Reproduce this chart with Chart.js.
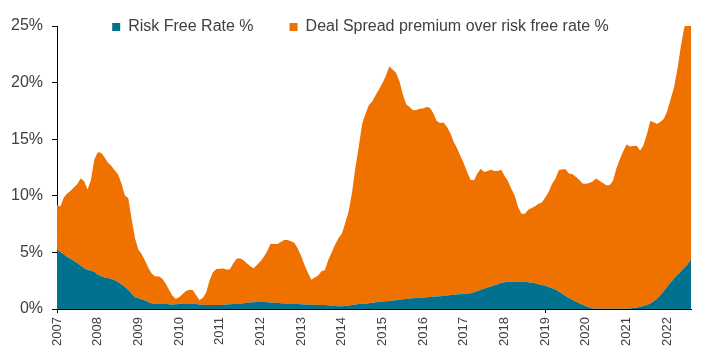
<!DOCTYPE html>
<html>
<head>
<meta charset="utf-8">
<script src="https://cdn.jsdelivr.net/npm/chart.js@4"></script>
<style>
  html, body { margin: 0; padding: 0; background: #fff; }
</style>
</head>
<body>
<canvas id="myChart" width="722" height="363"></canvas>
<script>
'use strict';

// data (monthly, Jan 2007 - Aug 2022)
const years = ['2007', '2008', '2009', '2010', '2011', '2012', '2013', '2014',
  '2015', '2016', '2017', '2018', '2019', '2020', '2021', '2022'];
const monthsInLastYear = 8;

const riskFree = [
  5.2, 5.05, 4.85, 4.6, 4.45, 4.25, 4.05, 3.85, 3.6, 3.45, 3.4, 3.3,
  3.05, 2.9, 2.8, 2.75, 2.65, 2.55, 2.4, 2.2, 1.95, 1.7, 1.35, 1.05,
  0.95, 0.85, 0.75, 0.6, 0.5, 0.48, 0.5, 0.5, 0.48, 0.42, 0.4, 0.42,
  0.45, 0.5, 0.5, 0.5, 0.48, 0.45, 0.4, 0.38, 0.36, 0.35, 0.35, 0.35,
  0.36, 0.38, 0.4, 0.42, 0.45, 0.45, 0.48, 0.52, 0.55, 0.58, 0.6, 0.62,
  0.62, 0.62, 0.6, 0.58, 0.55, 0.55, 0.52, 0.5, 0.5, 0.48, 0.45, 0.44,
  0.42, 0.4, 0.4, 0.38, 0.38, 0.36, 0.35, 0.35, 0.34, 0.3, 0.28, 0.26,
  0.26, 0.28, 0.32, 0.35, 0.4, 0.44, 0.46, 0.48, 0.52, 0.56, 0.6, 0.62,
  0.66, 0.7, 0.72, 0.75, 0.78, 0.82, 0.86, 0.9, 0.94, 0.96, 0.98, 1.0,
  1.02, 1.05, 1.07, 1.1, 1.12, 1.14, 1.17, 1.2, 1.24, 1.27, 1.3, 1.32,
  1.35, 1.38, 1.4, 1.48, 1.6, 1.7, 1.8, 1.9, 2.0, 2.1, 2.2, 2.3,
  2.38, 2.42, 2.42, 2.42, 2.42, 2.42, 2.41, 2.38, 2.33, 2.28, 2.2, 2.12,
  2.05, 1.95, 1.85, 1.72, 1.55, 1.35, 1.15, 0.98, 0.82, 0.68, 0.52, 0.38,
  0.26, 0.14, 0.06, 0.04, 0.03, 0.03, 0.03, 0.03, 0.03, 0.03, 0.03, 0.03,
  0.04, 0.06, 0.1, 0.13, 0.2, 0.28, 0.36, 0.5, 0.7, 0.94, 1.25, 1.6,
  2.0, 2.35, 2.7, 3.0, 3.3, 3.65, 3.95, 4.4
];

const dealSpread = [
  4.0, 4.0, 5.0, 5.6, 6.0, 6.5, 7.0, 7.7, 7.7, 7.1, 8.0, 9.9,
  10.8, 10.9, 10.6, 10.2, 10.0, 9.7, 9.5, 8.9, 8.1, 8.1, 6.6, 5.2,
  4.3, 4.0, 3.5, 3.0, 2.6, 2.4, 2.4, 2.2, 1.8, 1.3, 0.8, 0.5,
  0.6, 0.8, 1.1, 1.2, 1.2, 0.8, 0.4, 0.6, 1.1, 2.2, 2.9, 3.2,
  3.2, 3.2, 3.1, 3.1, 3.6, 4.0, 4.0, 3.8, 3.5, 3.2, 3.0, 3.3,
  3.6, 4.0, 4.5, 5.2, 5.2, 5.2, 5.4, 5.6, 5.6, 5.5, 5.4, 4.9,
  4.3, 3.5, 2.8, 2.2, 2.4, 2.6, 3.0, 3.1, 4.0, 4.7, 5.4, 6.0,
  6.4, 7.3, 8.3, 9.9, 12.1, 13.9, 15.9, 16.8, 17.5, 17.8, 18.3, 18.8,
  19.3, 19.9, 20.7, 20.4, 20.1, 19.3, 18.1, 17.2, 16.9, 16.6, 16.6, 16.7,
  16.7, 16.8, 16.7, 16.2, 15.5, 15.3, 15.3, 14.9, 14.3, 13.5, 12.9, 12.2,
  11.5, 10.7, 10.0, 9.9, 10.4, 10.7, 10.3, 10.3, 10.3, 10.1, 10.0, 10.0,
  9.4, 8.9, 8.2, 7.6, 6.6, 6.0, 6.0, 6.4, 6.6, 6.8, 7.1, 7.3,
  7.8, 8.4, 9.2, 9.8, 10.7, 11.0, 11.2, 11.0, 11.1, 11.0, 10.9, 10.7,
  10.8, 11.0, 11.2, 11.5, 11.3, 11.1, 10.9, 10.9, 11.3, 12.4, 13.2, 13.9,
  14.5, 14.3, 14.3, 14.3, 13.8, 14.2, 15.1, 16.1, 15.8, 15.4, 15.3, 15.2,
  15.5, 16.2, 16.9, 18.2, 19.9, 21.2, 21.7, 21.6
];

const yTicks = [0, 5, 10, 15, 20, 25];

// month labels like 2007-01
const labels = [];
years.forEach(function(y, i) {
  const n = i === years.length - 1 ? monthsInLastYear : 12;
  for (let m = 1; m <= n; m++) {
    labels.push(y + '-' + String(m).padStart(2, '0'));
  }
});

const FONT = 'Liberation Sans, Arial, sans-serif';
const TEXT = '#404040';

// legend sits over the top of the plot: take no layout space, then place it
const legendNudge = {
  id: 'legendNudge',
  beforeInit(chart) {
    const lg = chart.legend;
    const fit = lg.fit;
    lg.fit = function() {
      fit.call(lg);
      lg.height = 0;
    };
  },
  afterLayout(chart) {
    const lg = chart.legend;
    lg.top = -17;
    lg.height = 60;
    lg.bottom = lg.top + lg.height;
    lg.left += 14;
    lg.right += 14;
  }
};

const ctx = document.getElementById('myChart').getContext('2d');

new Chart(ctx, {
  type: 'line',
  data: {
    labels: labels,
    datasets: [
      {
        label: 'Risk Free Rate %',
        data: riskFree,
        backgroundColor: '#00718f',
        borderColor: '#00718f',
        borderWidth: 0,
        pointRadius: 0,
        fill: 'origin',
        tension: 0
      },
      {
        label: 'Deal Spread premium over risk free rate %',
        data: dealSpread,
        backgroundColor: '#ef7100',
        borderColor: '#ef7100',
        borderWidth: 0,
        pointRadius: 0,
        fill: '-1',
        tension: 0
      }
    ]
  },
  options: {
    responsive: false,
    animation: false,
    layout: {
      padding: { left: 2, right: 31, top: 26, bottom: 13 }
    },
    plugins: {
      legend: {
        position: 'top',
        align: 'center',
        labels: {
          boxWidth: 8,
          boxHeight: 8,
          padding: 36,
          color: TEXT,
          font: { family: FONT, size: 16 }
        }
      },
      tooltip: { enabled: false }
    },
    scales: {
      x: {
        type: 'category',
        offset: false,
        border: { display: true, color: '#000', width: 1 },
        grid: {
          drawOnChartArea: false,
          drawTicks: true,
          tickLength: 4,
          tickColor: function(c) {
            return c.index % 12 === 0 ? '#000' : 'rgba(0,0,0,0)';
          }
        },
        ticks: {
          autoSkip: false,
          minRotation: 90,
          maxRotation: 90,
          padding: 4,
          color: TEXT,
          font: { family: FONT, size: 13 },
          callback: function(value, index) {
            return index % 12 === 0 ? labels[index].slice(0, 4) : null;
          }
        }
      },
      y: {
        stacked: true,
        min: yTicks[0],
        max: yTicks[yTicks.length - 1],
        border: { display: true, color: '#000', width: 1 },
        grid: {
          drawOnChartArea: false,
          drawTicks: true,
          tickLength: 5,
          tickColor: '#000'
        },
        ticks: {
          stepSize: 5,
          padding: 9,
          color: TEXT,
          font: { family: FONT, size: 16 },
          callback: function(value) {
            return value + '%';
          }
        }
      }
    }
  },
  plugins: [legendNudge]
});
</script>
</body>
</html>
